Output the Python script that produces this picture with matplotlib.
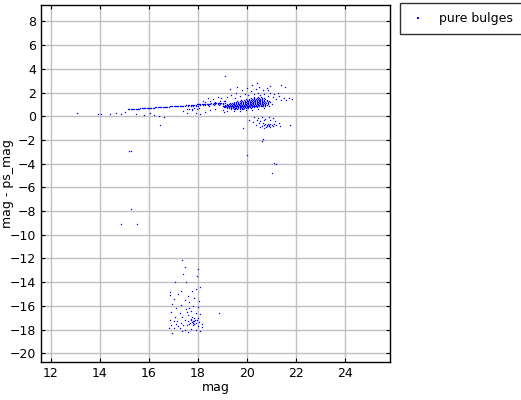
import matplotlib
matplotlib.use("Agg")
from matplotlib import pyplot as plt

# rough readings of the scatter, (mag, mag - ps_mag)
strip_mag = [15.15, 15.2, 15.25, 15.3, 15.35, 15.4, 15.45, 15.5, 15.55, 15.6,
             15.65, 15.7, 15.75, 15.8, 15.85, 15.9, 15.95, 16.0, 16.05, 16.1,
             16.15, 16.2, 16.25, 16.3, 16.35, 16.4, 16.45, 16.5, 16.55, 16.6,
             16.65, 16.7, 16.75, 16.8, 16.85, 16.9, 16.95, 17.0, 17.05, 17.1,
             17.15, 17.2, 17.25, 17.3, 17.35, 17.4, 17.45, 17.5]
strip_diff = [0.60, 0.61, 0.62, 0.61, 0.63, 0.62, 0.64, 0.63, 0.65, 0.64,
              0.66, 0.67, 0.66, 0.68, 0.69, 0.68, 0.70, 0.71, 0.70, 0.72,
              0.73, 0.72, 0.74, 0.75, 0.74, 0.76, 0.77, 0.76, 0.78, 0.79,
              0.78, 0.80, 0.81, 0.80, 0.82, 0.83, 0.82, 0.84, 0.85, 0.84,
              0.86, 0.87, 0.86, 0.88, 0.89, 0.88, 0.90, 0.91]

ridge_mag = [17.5, 17.6, 17.65, 17.7, 17.75, 17.8, 17.85, 17.9, 17.95, 18.0,
             18.05, 18.1, 18.15, 18.2, 18.25, 18.3, 18.35, 18.4, 18.45, 18.5,
             18.55, 18.6, 18.65, 18.7, 18.75, 18.8, 18.85, 18.9, 18.95, 19.0,
             17.6, 17.7, 17.8, 17.9, 18.0, 18.1, 18.2, 18.3, 18.4, 18.5,
             18.6, 18.7, 18.8, 18.9, 19.0, 19.1,
             17.55, 17.65, 17.75, 17.85, 17.95, 18.05,
             18.3, 18.5, 18.7, 18.9, 19.05, 18.45, 18.65, 18.85]
ridge_diff = [0.92, 0.93, 0.95, 0.94, 0.96, 0.97, 0.96, 0.98, 0.99, 1.0,
              0.99, 1.01, 1.02, 1.03, 1.02, 1.04, 1.05, 1.06, 1.05, 1.07,
              1.08, 1.07, 1.09, 1.1, 1.11, 1.1, 1.12, 1.13, 1.14, 1.13,
              0.84, 0.86, 0.88, 0.89, 0.9, 0.93, 0.94, 0.96, 0.97, 0.99,
              1.0, 1.02, 1.03, 1.05, 1.06, 1.08,
              0.62, 0.64, 0.63, 0.66, 0.65, 0.67,
              1.2, 1.25, 1.22, 1.3, 1.28, 0.9, 0.95, 0.98]

# dense core of the faint end, one row of mags per diff level
core_diff = [0.58, 0.66, 0.74, 0.82, 0.90, 0.98, 1.06, 1.14, 1.22, 1.30,
             1.38, 1.46, 1.54, 1.62]
core_mag = [
    [19.35, 19.45, 19.52, 19.6, 19.7, 19.78, 19.85],
    [19.2, 19.28, 19.35, 19.42, 19.5, 19.57, 19.65, 19.72, 19.8, 19.88, 19.95,
     20.05, 20.15],
    [19.05, 19.12, 19.2, 19.27, 19.34, 19.41, 19.48, 19.55, 19.62, 19.7, 19.77,
     19.84, 19.91, 19.98, 20.06, 20.14, 20.22, 20.3, 20.4],
    [19.0, 19.07, 19.14, 19.21, 19.28, 19.35, 19.42, 19.49, 19.56, 19.63, 19.7,
     19.77, 19.84, 19.91, 19.98, 20.05, 20.12, 20.19, 20.26, 20.34, 20.42,
     20.5, 20.6],
    [19.02, 19.09, 19.16, 19.23, 19.3, 19.37, 19.44, 19.51, 19.58, 19.65,
     19.72, 19.79, 19.86, 19.93, 20.0, 20.07, 20.14, 20.21, 20.28, 20.35,
     20.42, 20.49, 20.56, 20.65, 20.75],
    [19.1, 19.17, 19.24, 19.31, 19.38, 19.45, 19.52, 19.59, 19.66, 19.73,
     19.8, 19.87, 19.94, 20.01, 20.08, 20.15, 20.22, 20.29, 20.36, 20.43,
     20.5, 20.57, 20.64, 20.72, 20.82],
    [19.2, 19.27, 19.34, 19.41, 19.48, 19.55, 19.62, 19.69, 19.76, 19.83,
     19.9, 19.97, 20.04, 20.11, 20.18, 20.25, 20.32, 20.39, 20.46, 20.53,
     20.6, 20.67, 20.75, 20.85],
    [19.3, 19.38, 19.46, 19.54, 19.62, 19.7, 19.77, 19.84, 19.91, 19.98,
     20.05, 20.12, 20.19, 20.26, 20.33, 20.4, 20.47, 20.54, 20.61, 20.68,
     20.76, 20.86],
    [19.45, 19.55, 19.65, 19.74, 19.82, 19.9, 19.97, 20.04, 20.11, 20.18,
     20.25, 20.32, 20.39, 20.46, 20.53, 20.6, 20.67, 20.75, 20.85, 20.95],
    [19.6, 19.7, 19.8, 19.9, 19.98, 20.06, 20.13, 20.2, 20.27, 20.34, 20.41,
     20.48, 20.55, 20.62, 20.7, 20.8, 20.9],
    [19.75, 19.88, 20.0, 20.1, 20.18, 20.26, 20.33, 20.4, 20.47, 20.54,
     20.62, 20.7, 20.8],
    [19.95, 20.08, 20.2, 20.3, 20.38, 20.46, 20.54, 20.62, 20.72],
    [20.15, 20.28, 20.4, 20.5, 20.6, 20.7],
    [20.3, 20.45, 20.58],
]

halo = [(19.2, 1.6), (19.35, 1.8), (19.5, 1.5), (19.55, 2.0), (19.7, 1.7),
        (19.8, 2.2), (19.9, 1.9), (20.0, 2.4), (20.05, 1.75), (20.15, 2.1),
        (20.2, 2.6), (20.3, 1.9), (20.35, 2.3), (20.45, 2.0), (20.5, 2.5),
        (20.55, 1.8), (20.65, 2.2), (20.7, 1.9), (20.8, 2.4), (20.85, 1.7),
        (20.95, 2.0), (21.05, 1.6), (21.1, 1.9), (21.2, 1.45), (21.3, 1.7),
        (21.4, 1.35), (21.5, 1.55), (21.6, 1.4), (21.7, 1.5), (21.85, 1.45),
        (19.1, 1.3), (18.95, 1.5), (18.8, 1.6), (18.6, 1.45), (18.4, 1.5),
        (18.2, 1.3), (19.0, 0.55), (19.2, 0.45), (19.45, 0.4), (19.7, 0.45),
        (19.95, 0.5), (20.2, 0.55), (20.45, 0.6), (20.7, 0.7), (20.9, 0.85),
        (21.0, 1.0), (19.3, 2.3), (19.6, 2.5), (20.4, 2.8), (20.95, 2.55),
        (21.4, 2.6), (21.55, 2.5), (19.1, 3.4), (19.85, -0.96), (19.07, 0.37),
        (18.7, 0.6), (18.5, 0.55), (18.3, 0.35), (20.85, 2.2), (21.25, 2.0)]

lower_blob = [(20.3, -0.05), (20.45, -0.15), (20.6, -0.1), (20.75, -0.2),
              (20.9, -0.05), (21.05, -0.15), (20.4, -0.35), (20.55, -0.4),
              (20.7, -0.3), (20.95, -0.35), (21.15, -0.4), (20.5, -0.6),
              (20.65, -0.55), (20.75, -0.65), (20.8, -0.7), (20.85, -0.62),
              (20.9, -0.75), (20.95, -0.68), (21.0, -0.72), (20.7, -0.78),
              (20.82, -0.82), (20.88, -0.85), (20.78, -0.9), (20.95, -0.88),
              (21.05, -0.8), (21.1, -0.65), (21.2, -0.78), (20.6, -0.82),
              (20.55, -0.9), (20.35, -0.7), (20.25, -0.5), (21.3, -0.55),
              (21.35, -0.85), (21.75, -0.7), (20.7, -1.0), (20.6, -2.1),
              (20.65, -1.95), (19.99, -3.26), (21.2, -4.0), (21.1, -3.95),
              (21.0, -4.8), (20.1, -0.3)]

sparse = [(13.05, 0.31), (13.9, 0.18), (14.05, 0.2), (14.4, 0.18),
          (14.65, 0.3), (14.85, 0.22), (15.0, 0.35), (15.45, 0.18),
          (15.8, 0.12), (16.05, 0.3), (16.2, 0.1), (16.4, 0.05),
          (16.6, -0.1), (16.45, -0.76), (17.4, 0.45), (17.55, 0.25),
          (17.9, 0.3), (18.1, 0.2), (17.75, 0.5), (15.25, -2.9),
          (15.2, -2.95), (15.27, -7.85), (14.84, -9.1), (15.5, -9.1)]

deep = [(17.33, -12.1), (17.47, -12.7), (18.01, -12.85), (17.4, -13.3),
        (17.95, -13.5), (17.06, -13.95), (17.5, -14.0), (18.08, -14.4),
        (16.86, -14.8), (17.3, -14.7), (17.75, -14.75), (17.9, -14.6),
        (16.85, -15.1), (17.2, -15.0), (17.6, -15.2), (17.0, -15.4),
        (17.45, -15.5), (17.85, -15.3), (18.05, -15.6), (16.95, -15.8),
        (17.3, -15.9), (17.65, -15.7), (17.8, -16.0), (18.0, -16.1),
        (17.1, -16.2), (17.5, -16.3), (17.7, -16.4), (16.9, -16.5),
        (17.25, -16.6), (17.55, -16.55), (17.9, -16.6), (18.1, -16.7),
        (17.05, -16.9), (17.35, -16.95), (17.6, -16.8), (17.75, -16.9),
        (17.85, -17.0), (18.0, -17.0), (16.85, -17.2), (17.0, -17.3),
        (17.15, -17.25), (17.3, -17.4), (17.45, -17.2), (17.6, -17.3),
        (17.7, -17.2), (17.75, -17.35), (17.8, -17.25), (17.85, -17.3),
        (17.9, -17.4), (17.95, -17.2), (18.05, -17.35), (18.15, -17.5),
        (16.9, -17.6), (17.1, -17.55), (17.2, -17.7), (17.4, -17.6),
        (17.55, -17.65), (17.65, -17.5), (17.8, -17.6), (18.0, -17.7),
        (16.8, -17.9), (17.0, -17.85), (17.25, -17.9), (17.45, -18.0),
        (17.7, -17.95), (17.9, -18.0), (18.1, -18.1), (16.95, -18.25),
        (17.35, -18.15), (17.6, -18.2), (18.18, -17.8), (18.87, -16.6),
        (17.65, -16.15), (17.68, -17.45), (17.82, -17.5), (17.72, -17.1),
        (17.88, -17.15), (17.78, -17.4)]

# collect everything into one series
mag = list(strip_mag) + list(ridge_mag)
diff = list(strip_diff) + list(ridge_diff)
for d, row in zip(core_diff, core_mag):
    mag += row
    diff += [d] * len(row)
for group in (halo, lower_blob, sparse, deep):
    mag += [p[0] for p in group]
    diff += [p[1] for p in group]

fig = plt.figure(figsize=(5.21, 4.0), dpi=100)
ax = fig.add_axes([0.0787, 0.095, 0.67, 0.8925])

ax.plot(mag, diff, linestyle="none", marker="s", markersize=0.9,
        markeredgewidth=0, color="#0000ff", label="pure bulges")

ax.set_xlim(11.59, 25.84)
ax.set_ylim(-20.73, 9.38)
ax.set_xticks(range(12, 25, 2))
ax.set_yticks(range(-20, 9, 2))
ax.grid(True, color="#c0c0c0", linewidth=1)
ax.set_axisbelow(True)
ax.tick_params(direction="in", top=True, right=True, length=3,
               labelsize=9, colors="black")
for s in ax.spines.values():
    s.set_linewidth(1)
ax.set_xlabel("mag", fontsize=9, labelpad=1)
ax.set_ylabel("mag - ps_mag", fontsize=9)
ax.yaxis.set_label_coords(-0.077, 0.5)

leg = fig.legend(loc="upper left", bbox_to_anchor=(0.768, 0.992),
                 borderaxespad=0, fontsize=9, frameon=True, fancybox=False,
                 markerscale=1.8, handlelength=1.4, borderpad=0.7,
                 handletextpad=1.0)
leg.get_frame().set_edgecolor("black")
leg.get_frame().set_linewidth(1)

plt.savefig("out.png", dpi=100)
plt.close(fig)
